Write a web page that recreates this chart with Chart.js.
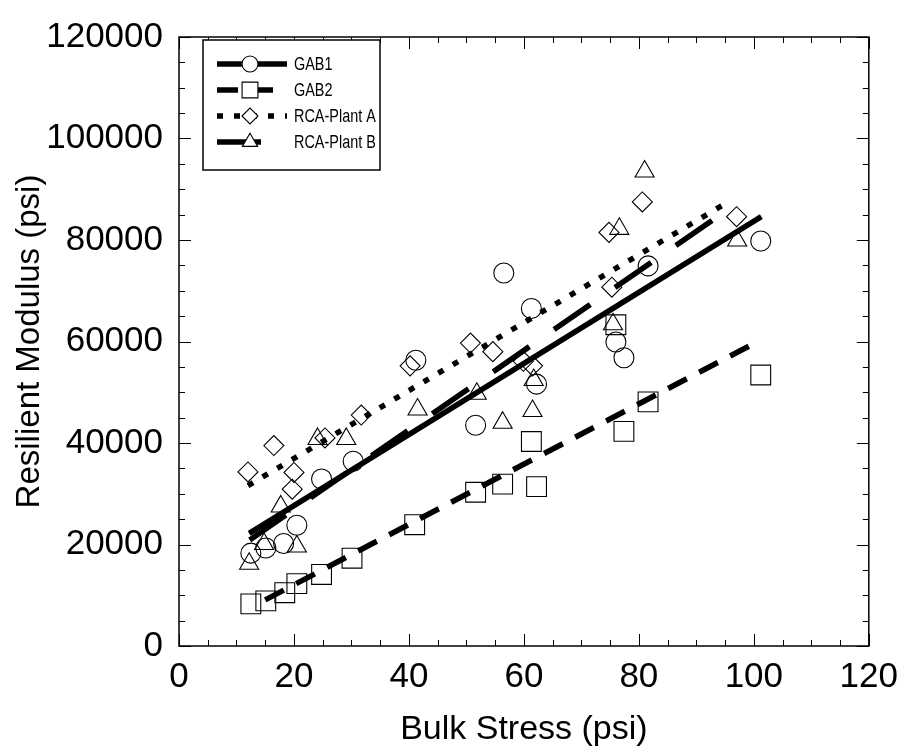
<!DOCTYPE html>
<html>
<head>
<meta charset="utf-8">
<title>Resilient Modulus vs Bulk Stress</title>
<script src="https://cdn.jsdelivr.net/npm/chart.js@4.4.1/dist/chart.umd.min.js"></script>
<style>
  html, body { margin: 0; padding: 0; background: #fff; }
  #wrap { width: 908px; height: 754px; }
</style>
</head>
<body>
<div id="wrap"><canvas id="chart" width="908" height="754"></canvas></div>
<script>
// measured points
const gab1X = [12.5, 15.1, 18.2, 20.5, 24.8, 30.3, 41.2, 51.6, 56.5, 61.3, 62.2, 76.0, 77.4, 81.6, 101.2];
const gab1Y = [18300, 19300, 20200, 23800, 32900, 36400, 56300, 43500, 73500, 66500, 51600, 59900, 56800, 74900, 79800];

const gab2X = [12.5, 15.1, 18.4, 20.5, 24.8, 30.1, 41.0, 51.6, 56.3, 61.3, 62.2, 76.0, 77.4, 81.6, 101.2];
const gab2Y = [8300, 8900, 10500, 12300, 14100, 17300, 23900, 30300, 31900, 40300, 31400, 63300, 42300, 48100, 53400];

const rcaAX = [12.0, 16.5, 19.7, 20.0, 25.4, 31.7, 40.2, 50.7, 54.6, 59.9, 61.5, 74.8, 75.3, 80.6, 97.0];
const rcaAY = [34300, 39500, 30900, 34200, 41000, 45500, 55200, 59700, 58000, 56100, 55200, 81500, 70700, 87500, 84600];

const rcaBX = [12.2, 14.8, 17.7, 20.5, 24.1, 29.1, 41.5, 51.8, 56.3, 61.5, 61.7, 75.5, 76.6, 81.0, 97.1];
const rcaBY = [16200, 20100, 27500, 19600, 40800, 40800, 46600, 49700, 44000, 46300, 52400, 63400, 82200, 93500, 79900];

// fitted lines (end points)
const gab1FitX = [12.2, 101.3];
const gab1FitY = [22200, 84600];
const gab2FitX = [15.0, 101.2];
const gab2FitY = [9100, 60300];
const rcaAFitX = [12.0, 96.0];
const rcaAFitY = [31600, 87800];
const rcaBFitX = [12.3, 97.0];
const rcaBFitY = [20900, 87200];

const seriesNames = ['GAB1', 'GAB2', 'RCA-Plant A', 'RCA-Plant B'];
const xTicks = [0, 20, 40, 60, 80, 100, 120];
const yTicks = [0, 20000, 40000, 60000, 80000, 100000, 120000];
const xMinorStep = 5;
const yMinorStep = 5000;

const FONT = "'Liberation Sans', Arial, sans-serif";
const pts = (xs, ys) => xs.map((x, i) => ({ x: x, y: ys[i] }));

const styles = [
  { pointStyle: 'circle', radius: 10, dash: [] },
  { pointStyle: 'rect', radius: 14, dash: [21, 14] },
  { pointStyle: 'rectRot', radius: 10, dash: [6, 11] },
  { pointStyle: 'triangle', radius: 11, dash: [44, 30] }
];

function markers(i, data) {
  return {
    type: 'scatter',
    label: seriesNames[i],
    data: data,
    pointStyle: styles[i].pointStyle,
    pointRadius: styles[i].radius,
    pointBorderColor: '#000',
    pointBackgroundColor: 'rgba(0,0,0,0)',
    pointBorderWidth: 1.1,
    showLine: false
  };
}

function fitLine(i, data) {
  return {
    type: 'line',
    label: seriesNames[i] + ' fit',
    data: data,
    borderColor: '#000',
    borderWidth: 5.5,
    borderDash: styles[i].dash,
    borderCapStyle: 'butt',
    pointRadius: 0,
    fill: false,
    tension: 0
  };
}

// box with inward major/minor ticks on all sides
const frameTicks = {
  id: 'frameTicks',
  afterDatasetsDraw(chart) {
    const { ctx, chartArea: a, scales: { x, y } } = chart;
    ctx.save();
    ctx.strokeStyle = '#000';
    ctx.lineWidth = 1;
    ctx.beginPath();
    for (let v = x.min; v <= x.max; v += xMinorStep) {
      const px = Math.round(x.getPixelForValue(v)) + 0.5;
      const len = xTicks.includes(v) ? 12 : 6;
      ctx.moveTo(px, a.bottom); ctx.lineTo(px, a.bottom - len);
      ctx.moveTo(px, a.top); ctx.lineTo(px, a.top + len);
    }
    for (let v = y.min; v <= y.max; v += yMinorStep) {
      const py = Math.round(y.getPixelForValue(v)) + 0.5;
      const len = yTicks.includes(v) ? 12 : 6;
      ctx.moveTo(a.left, py); ctx.lineTo(a.left + len, py);
      ctx.moveTo(a.right, py); ctx.lineTo(a.right - len, py);
    }
    ctx.stroke();
    ctx.lineWidth = 1.5;
    ctx.strokeRect(a.left, a.top, a.right - a.left, a.bottom - a.top);
    ctx.restore();
  }
};

// legend box inside the plot, upper left
const boxLegend = {
  id: 'boxLegend',
  afterDraw(chart) {
    const ctx = chart.ctx;
    const left = 203, top = 40, w = 177, h = 130;
    const rowY = [64, 90, 116, 142];
    ctx.save();
    ctx.fillStyle = '#fff';
    ctx.fillRect(left, top, w, h);
    ctx.strokeStyle = '#000';
    ctx.lineWidth = 1.5;
    ctx.strokeRect(left, top, w, h);
    for (let i = 0; i < seriesNames.length; i++) {
      const yy = rowY[i];
      ctx.beginPath();
      ctx.lineWidth = 5.5;
      ctx.setLineDash(styles[i].dash);
      ctx.moveTo(217, yy);
      ctx.lineTo(287, yy);
      ctx.stroke();
      ctx.setLineDash([]);
      ctx.lineWidth = 1.1;
      ctx.fillStyle = '#fff';
      Chart.helpers.drawPoint(ctx, {
        pointStyle: styles[i].pointStyle,
        radius: styles[i].radius * 0.8,
        rotation: 0,
        borderWidth: 1.1
      }, 250, yy);
      // narrow lettering like the original
      ctx.save();
      ctx.translate(294, yy + 1);
      ctx.scale(0.76, 1);
      ctx.fillStyle = '#000';
      ctx.font = '19px ' + FONT;
      ctx.textBaseline = 'middle';
      ctx.textAlign = 'left';
      ctx.fillText(seriesNames[i], 0, 0);
      ctx.restore();
    }
    ctx.restore();
  }
};

new Chart(document.getElementById('chart'), {
  type: 'scatter',
  data: {
    datasets: [
      markers(0, pts(gab1X, gab1Y)),
      markers(1, pts(gab2X, gab2Y)),
      markers(2, pts(rcaAX, rcaAY)),
      markers(3, pts(rcaBX, rcaBY)),
      fitLine(0, pts(gab1FitX, gab1FitY)),
      fitLine(1, pts(gab2FitX, gab2FitY)),
      fitLine(2, pts(rcaAFitX, rcaAFitY)),
      fitLine(3, pts(rcaBFitX, rcaBFitY))
    ]
  },
  options: {
    responsive: false,
    animation: false,
    events: [],
    layout: { padding: { top: 28, right: 33, left: 0, bottom: 0 } },
    plugins: { legend: { display: false }, tooltip: { enabled: false } },
    scales: {
      x: {
        type: 'linear',
        min: 0,
        max: 120,
        afterBuildTicks: s => { s.ticks = xTicks.map(v => ({ value: v })); },
        afterFit: s => { s.height = 108; },
        grid: { display: false, drawTicks: false },
        border: { display: false },
        ticks: { color: '#000', padding: 10, maxRotation: 0, callback: v => String(v), font: { family: FONT, size: 35 } },
        title: { display: true, text: 'Bulk Stress (psi)', color: '#000', padding: { top: 0, bottom: 4 }, font: { family: FONT, size: 34 } }
      },
      y: {
        type: 'linear',
        min: 0,
        max: 120000,
        afterBuildTicks: s => { s.ticks = yTicks.map(v => ({ value: v })); },
        afterFit: s => { s.width = 179; },
        grid: { display: false, drawTicks: false },
        border: { display: false },
        ticks: { color: '#000', padding: 16, callback: v => String(v), font: { family: FONT, size: 35 } },
        title: { display: true, text: 'Resilient Modulus (psi)', color: '#000', padding: { top: 10, bottom: 0 }, font: { family: FONT, size: 33 } }
      }
    }
  },
  plugins: [frameTicks, boxLegend]
});
</script>
</body>
</html>
